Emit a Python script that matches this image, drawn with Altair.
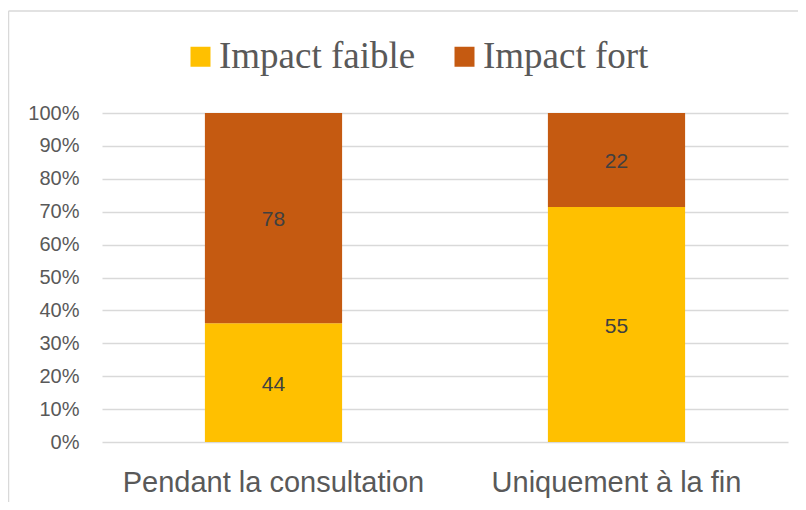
import altair as alt
import pandas as pd

categories = ["Pendant la consultation", "Uniquement à la fin"]
series = ["Impact faible", "Impact fort"]
faible = [44, 55]
fort = [78, 22]
colors = ["#FFC000", "#C55A11"]
y_ticks = [0, 0.1, 0.2, 0.3, 0.4, 0.5, 0.6, 0.7, 0.8, 0.9, 1.0]

rows = []
for i, c in enumerate(categories):
    rows.append({"cat": c, "serie": series[0], "value": faible[i], "rank": 0})
    rows.append({"cat": c, "serie": series[1], "value": fort[i], "rank": 1})
df = pd.DataFrame(rows)

base = alt.Chart(df).transform_stack(
    stack="value",
    as_=["y0", "y1"],
    groupby=["cat"],
    sort=[alt.SortField("rank", order="ascending")],
    offset="normalize",
).transform_calculate(mid="(datum.y0 + datum.y1) / 2")

x_axis = alt.Axis(
    title=None, labelAngle=0, labelFont="Liberation Sans", labelFontSize=29,
    labelColor="#595959", labelPadding=26, ticks=False, domain=False, grid=False,
    labelLimit=0,
)
x_scale = alt.Scale(paddingInner=0.6, paddingOuter=0.3)

y_axis = alt.Axis(
    title=None, values=y_ticks, format=".0%", labelFont="Liberation Sans",
    labelFontSize=20, labelColor="#595959", labelPadding=23, ticks=False,
    domain=False, grid=True, gridColor="#d9d9d9", gridWidth=1.3,
    labelOverlap=False, labelLimit=0,
)
y_scale = alt.Scale(domain=[0, 1], nice=False)

bars = base.mark_bar().encode(
    x=alt.X("cat:N", sort=categories, scale=x_scale, axis=x_axis),
    y=alt.Y("y0:Q", scale=y_scale, axis=y_axis),
    y2="y1:Q",
    color=alt.Color(
        "serie:N",
        scale=alt.Scale(domain=series, range=colors),
        legend=alt.Legend(
            title=None, orient="none", direction="horizontal", legendX=80, legendY=-75,
            symbolType="square", symbolSize=400, symbolStrokeWidth=0,
            labelFont="Liberation Serif", labelFontSize=37, labelColor="#595959",
            labelOffset=0, columnPadding=30, padding=0, labelLimit=0,
        ),
    ),
)

labels = base.mark_text(
    font="Liberation Sans", fontSize=21, color="#404040", baseline="middle", dy=2
).encode(
    x=alt.X("cat:N", sort=categories, scale=x_scale, axis=x_axis),
    y=alt.Y("mid:Q", scale=y_scale, axis=y_axis),
    text=alt.Text("value:Q"),
)

frame_left = alt.Chart(alt.Data(values=[{}])).mark_rule(
    color="#d9d9d9", strokeWidth=1.5
).encode(x=alt.value(-93.5), y=alt.value(-102), y2=alt.value(392))

frame_top = alt.Chart(alt.Data(values=[{}])).mark_rule(
    color="#d9d9d9", strokeWidth=1.5
).encode(x=alt.value(-93.5), x2=alt.value(700), y=alt.value(-102))

chart = alt.layer(bars, labels, frame_left, frame_top).properties(
    width=686,
    height=329,
    autosize=alt.AutoSizeParams(type="none"),
    padding={"left": 94, "top": 105, "right": 10, "bottom": 60},
).configure_view(strokeWidth=0)

chart.save("out.html", embed_options={"renderer": "svg", "actions": False})
